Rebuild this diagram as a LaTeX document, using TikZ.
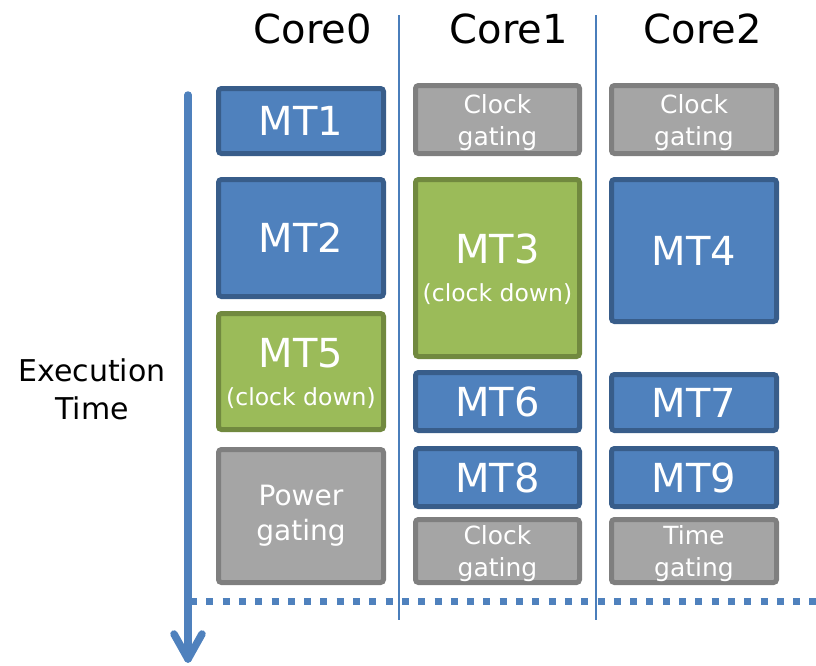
\documentclass[tikz,border=0pt]{standalone}
\usepackage{fontspec}
\setmainfont{DejaVu Sans}
\definecolor{mtblue}{HTML}{4F81BD}
\definecolor{mtblueline}{HTML}{385D8A}
\definecolor{mtgreen}{HTML}{9BBB59}
\definecolor{mtgreenline}{HTML}{71893F}
\definecolor{idlegray}{HTML}{A5A5A5}
\definecolor{idlegrayline}{HTML}{7F7F7F}
\definecolor{axisblue}{HTML}{4A7EBB}
\tikzset{
  task/.style={draw, line width=5pt, rounded corners=3pt, text=white,
    inner sep=0pt, align=center, minimum width=165pt},
  mtbox/.style={task, fill=mtblue, draw=mtblueline, font=\fontsize{40}{40}\selectfont},
  downbox/.style={task, fill=mtgreen, draw=mtgreenline, font=\fontsize{40}{38}\selectfont},
  idlebox/.style={task, fill=idlegray, draw=idlegrayline, font=\fontsize{25}{32}\selectfont},
  powerbox/.style={task, fill=idlegray, draw=idlegrayline, font=\fontsize{28}{35}\selectfont},
  header/.style={anchor=base, font=\fontsize{40}{40}\selectfont, inner sep=0pt},
  separator/.style={draw=axisblue, line width=1.5pt},
  timeaxis/.style={draw=mtblue, line width=7.5pt, line cap=round, line join=round},
  endline/.style={draw=mtblue, line width=7pt, dash pattern=on 7pt off 9.3pt}
}
\newcommand{\clocknote}[1]{{\fontsize{23.5}{23.5}\selectfont #1}}
\begin{document}
\begin{tikzpicture}[x=1pt, y=-1pt]
  \useasboundingbox (0,0) rectangle (816,665);

  % column headers
  \node[header] (h0) at (313,43) {Core0};
  \node[header] (h1) at (509,43) {Core1};
  \node[header] (h2) at (703,43) {Core2};

  % column separators
  \coordinate (s1t) at (399,15);
  \coordinate (s1b) at (399,620);
  \coordinate (s2t) at (596,15);
  \coordinate (s2b) at (596,620);
  \draw[separator] (s1t) -- (s1b);
  \draw[separator] (s2t) -- (s2b);

  % end-of-schedule marker
  \coordinate (el) at (190,601);
  \coordinate (er) at (816,601);
  \draw[endline] (el) -- (er);

  % time axis
  \coordinate (at) at (188,95);
  \coordinate (ab) at (188,659);
  \coordinate (al) at (174,634);
  \coordinate (ar) at (202,634);
  \draw[timeaxis] (at) -- (ab);
  \draw[timeaxis] (al) -- (ab) -- (ar);
  \node[font=\fontsize{30}{38}\selectfont, align=center] (axl) at (92,389) {Execution\\Time};

  % Core0
  \node[mtbox, minimum height=65pt] (mt1) at (301,121) {MT1};
  \node[mtbox, minimum height=117pt] (mt2) at (301,238) {MT2};
  \node[downbox, minimum height=116pt, text depth=0pt] (mt5) at (301,371.5) {MT5\\\clocknote{(clock down)}};
  \node[powerbox, minimum height=133pt] (pg0) at (301,516) {Power\\gating};

  % Core1
  \node[idlebox, minimum height=68pt, minimum width=164pt, text depth=0pt] (cg1a) at (497.5,119.5) {Clock\\gating};
  \node[downbox, minimum height=177pt, minimum width=164pt, text depth=0pt] (mt3) at (497.5,268) {MT3\\\clocknote{(clock down)}};
  \node[mtbox, minimum height=58pt, minimum width=164pt] (mt6) at (497.5,401.5) {MT6};
  \node[mtbox, minimum height=58pt, minimum width=164pt] (mt8) at (497.5,477.5) {MT8};
  \node[idlebox, minimum height=63pt, minimum width=164pt, text depth=0pt] (cg1b) at (497.5,551) {Clock\\gating};

  % Core2
  \node[idlebox, minimum height=68pt, text depth=0pt] (cg2) at (694,119.5) {Clock\\gating};
  \node[mtbox, minimum height=142pt] (mt4) at (694,250.5) {MT4};
  \node[mtbox, minimum height=56pt] (mt7) at (694,402.5) {MT7};
  \node[mtbox, minimum height=58pt] (mt9) at (694,477.5) {MT9};
  \node[idlebox, minimum height=63pt, text depth=0pt] (tg2) at (694,551) {Time\\gating};
\end{tikzpicture}
\end{document}
